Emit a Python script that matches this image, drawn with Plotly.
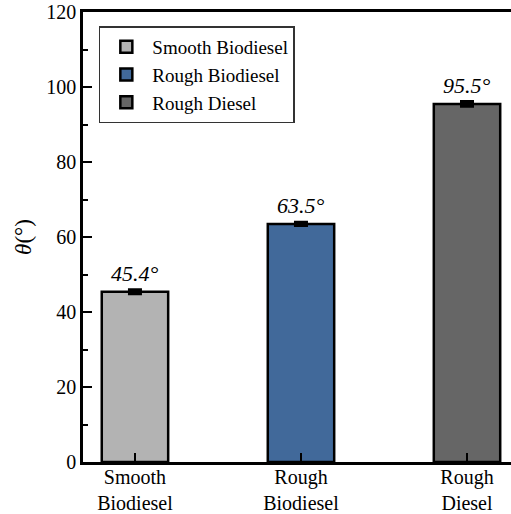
import plotly.graph_objects as go

categories = ["Smooth<br>Biodiesel", "Rough<br>Biodiesel", "Rough<br>Diesel"]
legend_names = ["Smooth Biodiesel", "Rough Biodiesel", "Rough Diesel"]
values = [45.4, 63.5, 95.5]
errors = [0.4, 0.3, 0.5]
colors = ["#b3b3b3", "#41699a", "#666666"]

y_ticks = [0, 20, 40, 60, 80, 100, 120]
FONT = "Liberation Serif"

fig = go.Figure()
for cat, name, v, e, c in zip(categories, legend_names, values, errors, colors):
    fig.add_trace(go.Bar(
        x=[cat], y=[v], name=name, width=0.4,
        marker=dict(color=c, line=dict(color="black", width=2.5)),
        error_y=dict(type="data", array=[e], color="black", thickness=4, width=7),
    ))

for cat, v in zip(categories, values):
    fig.add_annotation(x=cat, y=v, text=f"<i>{v:.1f}°</i>", showarrow=False,
                       yanchor="bottom", yshift=4,
                       font=dict(family=FONT, size=22, color="black"))

fig.update_layout(
    width=511, height=514,
    margin=dict(l=83, r=0, t=12, b=52, autoexpand=False),
    plot_bgcolor="white", paper_bgcolor="white",
    barmode="overlay",
    showlegend=True,
    font=dict(family=FONT, color="black"),
    legend=dict(x=0.037, y=0.968, xanchor="left", yanchor="top",
                bordercolor="#333333", borderwidth=1.5, bgcolor="white",
                font=dict(family=FONT, size=19, color="black"),
                traceorder="normal", itemwidth=42, tracegroupgap=0),
    xaxis=dict(range=[-0.313, 2.265], showline=True, linecolor="black", linewidth=2.5,
               mirror=True, ticks="inside", ticklen=9, tickwidth=2, tickcolor="black",
               tickfont=dict(family=FONT, size=20, color="black"), showgrid=False,
               zeroline=False, categoryorder="array", categoryarray=categories,
               automargin=False, ticklabelstandoff=-5),
    yaxis=dict(range=[0, 120], tickvals=y_ticks, showline=True, linecolor="black",
               linewidth=2.5, mirror=False, ticks="inside", ticklen=9, tickwidth=2,
               tickcolor="black", tickfont=dict(family=FONT, size=20, color="black"),
               showgrid=False, zeroline=False, automargin=False,
               minor=dict(dtick=10, ticks="inside", ticklen=5, tickwidth=1.5, tickcolor="black"),
               title=dict(text="<i>θ</i>(°)", font=dict(family=FONT, size=23, color="black"),
                          standoff=9)),
)

fig.write_html("out.html", config={"displayModeBar": False},
               post_script="document.body.style.margin='0';document.body.style.overflow='hidden';")
